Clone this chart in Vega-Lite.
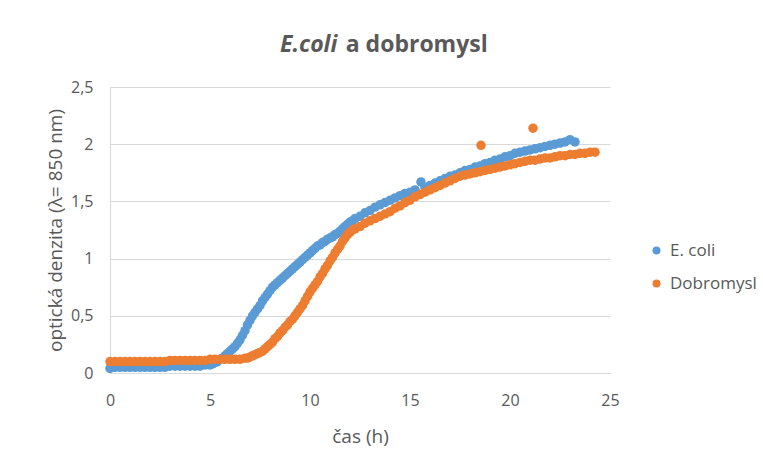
{
  "$schema": "https://vega.github.io/schema/vega-lite/v6.json",
  "width": 500,
  "height": 286,
  "autosize": "none",
  "padding": {"left": 110, "top": 87, "right": 153, "bottom": 92},
  "background": "white",
  "title": {
    "text": "E.coli",
    "subtitle": "\u200b\u00a0\u00a0\u00a0\u00a0\u00a0\u00a0\u00a0\u00a0\u00a0\u00a0\u00a0a dobromysl",
    "anchor": "start",
    "frame": "group",
    "dx": 170,
    "offset": 22,
    "font": "Open Sans",
    "fontSize": 23,
    "fontWeight": "bold",
    "fontStyle": "italic",
    "color": "#595959",
    "subtitleFont": "Open Sans",
    "subtitleFontSize": 23,
    "subtitleFontWeight": "bold",
    "subtitleFontStyle": "normal",
    "subtitleColor": "#595959",
    "subtitlePadding": -23
  },
  "config": {
    "font": "Open Sans",
    "view": {"stroke": null},
    "axis": {
      "labelFont": "Open Sans",
      "labelFontSize": 16,
      "labelColor": "#595959",
      "labelFlush": false,
      "titleFont": "Open Sans",
      "titleFontSize": 19,
      "titleFontWeight": "normal",
      "titleColor": "#595959",
      "domainColor": "#d9d9d9",
      "gridColor": "#d9d9d9",
      "ticks": false
    }
  },
  "data": {
    "values": [
      {"t":0,"v":0.04,"s":"E. coli"},{"t":0.25,"v":0.05,"s":"E. coli"},{"t":0.5,"v":0.05,"s":"E. coli"},{"t":0.75,"v":0.05,"s":"E. coli"},{"t":1,"v":0.05,"s":"E. coli"},{"t":1.25,"v":0.05,"s":"E. coli"},{"t":1.5,"v":0.05,"s":"E. coli"},{"t":1.75,"v":0.05,"s":"E. coli"},{"t":2,"v":0.05,"s":"E. coli"},{"t":2.25,"v":0.05,"s":"E. coli"},{"t":2.5,"v":0.05,"s":"E. coli"},{"t":2.75,"v":0.05,"s":"E. coli"},{"t":3,"v":0.06,"s":"E. coli"},{"t":3.25,"v":0.06,"s":"E. coli"},{"t":3.5,"v":0.06,"s":"E. coli"},{"t":3.75,"v":0.06,"s":"E. coli"},{"t":4,"v":0.06,"s":"E. coli"},{"t":4.25,"v":0.06,"s":"E. coli"},{"t":4.5,"v":0.06,"s":"E. coli"},{"t":4.75,"v":0.07,"s":"E. coli"},{"t":5,"v":0.07,"s":"E. coli"},
      {"t":5.125,"v":0.08,"s":"E. coli"},{"t":5.25,"v":0.09,"s":"E. coli"},{"t":5.375,"v":0.1,"s":"E. coli"},{"t":5.5,"v":0.12,"s":"E. coli"},{"t":5.625,"v":0.13,"s":"E. coli"},{"t":5.75,"v":0.15,"s":"E. coli"},{"t":5.875,"v":0.17,"s":"E. coli"},{"t":6,"v":0.19,"s":"E. coli"},{"t":6.125,"v":0.21,"s":"E. coli"},{"t":6.25,"v":0.23,"s":"E. coli"},{"t":6.375,"v":0.26,"s":"E. coli"},{"t":6.5,"v":0.29,"s":"E. coli"},{"t":6.625,"v":0.33,"s":"E. coli"},{"t":6.75,"v":0.37,"s":"E. coli"},{"t":6.875,"v":0.42,"s":"E. coli"},{"t":7,"v":0.46,"s":"E. coli"},{"t":7.125,"v":0.5,"s":"E. coli"},{"t":7.25,"v":0.53,"s":"E. coli"},{"t":7.375,"v":0.56,"s":"E. coli"},{"t":7.5,"v":0.59,"s":"E. coli"},{"t":7.625,"v":0.63,"s":"E. coli"},{"t":7.75,"v":0.66,"s":"E. coli"},{"t":7.875,"v":0.69,"s":"E. coli"},{"t":8,"v":0.72,"s":"E. coli"},{"t":8.125,"v":0.75,"s":"E. coli"},{"t":8.25,"v":0.77,"s":"E. coli"},{"t":8.375,"v":0.79,"s":"E. coli"},{"t":8.5,"v":0.81,"s":"E. coli"},{"t":8.625,"v":0.83,"s":"E. coli"},{"t":8.75,"v":0.85,"s":"E. coli"},{"t":8.875,"v":0.87,"s":"E. coli"},{"t":9,"v":0.89,"s":"E. coli"},{"t":9.125,"v":0.91,"s":"E. coli"},{"t":9.25,"v":0.93,"s":"E. coli"},{"t":9.375,"v":0.95,"s":"E. coli"},{"t":9.5,"v":0.97,"s":"E. coli"},{"t":9.625,"v":0.99,"s":"E. coli"},{"t":9.75,"v":1.01,"s":"E. coli"},{"t":9.875,"v":1.03,"s":"E. coli"},{"t":10,"v":1.05,"s":"E. coli"},{"t":10.125,"v":1.07,"s":"E. coli"},{"t":10.25,"v":1.09,"s":"E. coli"},{"t":10.375,"v":1.11,"s":"E. coli"},{"t":10.5,"v":1.12,"s":"E. coli"},{"t":10.625,"v":1.14,"s":"E. coli"},{"t":10.75,"v":1.15,"s":"E. coli"},{"t":10.875,"v":1.17,"s":"E. coli"},{"t":11,"v":1.18,"s":"E. coli"},{"t":11.125,"v":1.19,"s":"E. coli"},{"t":11.25,"v":1.21,"s":"E. coli"},{"t":11.375,"v":1.22,"s":"E. coli"},{"t":11.5,"v":1.24,"s":"E. coli"},{"t":11.625,"v":1.26,"s":"E. coli"},{"t":11.75,"v":1.28,"s":"E. coli"},{"t":11.875,"v":1.3,"s":"E. coli"},{"t":12,"v":1.32,"s":"E. coli"},{"t":12.125,"v":1.33,"s":"E. coli"},{"t":12.25,"v":1.35,"s":"E. coli"},
      {"t":12.5,"v":1.37,"s":"E. coli"},{"t":12.75,"v":1.4,"s":"E. coli"},{"t":13,"v":1.42,"s":"E. coli"},{"t":13.25,"v":1.45,"s":"E. coli"},{"t":13.5,"v":1.47,"s":"E. coli"},{"t":13.75,"v":1.49,"s":"E. coli"},{"t":14,"v":1.51,"s":"E. coli"},{"t":14.25,"v":1.53,"s":"E. coli"},{"t":14.5,"v":1.55,"s":"E. coli"},{"t":14.75,"v":1.57,"s":"E. coli"},{"t":15,"v":1.58,"s":"E. coli"},{"t":15.25,"v":1.6,"s":"E. coli"},{"t":15.55,"v":1.67,"s":"E. coli"},{"t":15.75,"v":1.62,"s":"E. coli"},{"t":16,"v":1.64,"s":"E. coli"},{"t":16.25,"v":1.66,"s":"E. coli"},{"t":16.5,"v":1.68,"s":"E. coli"},{"t":16.75,"v":1.7,"s":"E. coli"},{"t":17,"v":1.72,"s":"E. coli"},{"t":17.25,"v":1.73,"s":"E. coli"},{"t":17.5,"v":1.75,"s":"E. coli"},{"t":17.75,"v":1.77,"s":"E. coli"},{"t":18,"v":1.78,"s":"E. coli"},{"t":18.25,"v":1.8,"s":"E. coli"},{"t":18.5,"v":1.81,"s":"E. coli"},{"t":18.75,"v":1.83,"s":"E. coli"},{"t":19,"v":1.84,"s":"E. coli"},{"t":19.25,"v":1.86,"s":"E. coli"},{"t":19.5,"v":1.87,"s":"E. coli"},{"t":19.75,"v":1.89,"s":"E. coli"},{"t":20,"v":1.9,"s":"E. coli"},{"t":20.25,"v":1.92,"s":"E. coli"},{"t":20.5,"v":1.93,"s":"E. coli"},{"t":20.75,"v":1.94,"s":"E. coli"},{"t":21,"v":1.95,"s":"E. coli"},{"t":21.25,"v":1.96,"s":"E. coli"},{"t":21.5,"v":1.97,"s":"E. coli"},{"t":21.75,"v":1.98,"s":"E. coli"},{"t":22,"v":1.99,"s":"E. coli"},{"t":22.25,"v":2.0,"s":"E. coli"},{"t":22.5,"v":2.01,"s":"E. coli"},{"t":22.75,"v":2.02,"s":"E. coli"},{"t":23,"v":2.04,"s":"E. coli"},{"t":23.25,"v":2.02,"s":"E. coli"},
      {"t":0,"v":0.1,"s":"Dobromysl"},{"t":0.25,"v":0.1,"s":"Dobromysl"},{"t":0.5,"v":0.1,"s":"Dobromysl"},{"t":0.75,"v":0.1,"s":"Dobromysl"},{"t":1,"v":0.1,"s":"Dobromysl"},{"t":1.25,"v":0.1,"s":"Dobromysl"},{"t":1.5,"v":0.1,"s":"Dobromysl"},{"t":1.75,"v":0.1,"s":"Dobromysl"},{"t":2,"v":0.1,"s":"Dobromysl"},{"t":2.25,"v":0.1,"s":"Dobromysl"},{"t":2.5,"v":0.1,"s":"Dobromysl"},{"t":2.75,"v":0.1,"s":"Dobromysl"},{"t":3,"v":0.11,"s":"Dobromysl"},{"t":3.25,"v":0.11,"s":"Dobromysl"},{"t":3.5,"v":0.11,"s":"Dobromysl"},{"t":3.75,"v":0.11,"s":"Dobromysl"},{"t":4,"v":0.11,"s":"Dobromysl"},{"t":4.25,"v":0.11,"s":"Dobromysl"},{"t":4.5,"v":0.11,"s":"Dobromysl"},{"t":4.75,"v":0.11,"s":"Dobromysl"},{"t":5,"v":0.12,"s":"Dobromysl"},{"t":5.25,"v":0.12,"s":"Dobromysl"},{"t":5.5,"v":0.12,"s":"Dobromysl"},{"t":5.75,"v":0.12,"s":"Dobromysl"},{"t":6,"v":0.12,"s":"Dobromysl"},{"t":6.25,"v":0.12,"s":"Dobromysl"},{"t":6.5,"v":0.12,"s":"Dobromysl"},{"t":6.75,"v":0.13,"s":"Dobromysl"},
      {"t":6.875,"v":0.13,"s":"Dobromysl"},{"t":7,"v":0.14,"s":"Dobromysl"},{"t":7.125,"v":0.15,"s":"Dobromysl"},{"t":7.25,"v":0.16,"s":"Dobromysl"},{"t":7.375,"v":0.17,"s":"Dobromysl"},{"t":7.5,"v":0.18,"s":"Dobromysl"},{"t":7.625,"v":0.19,"s":"Dobromysl"},{"t":7.75,"v":0.21,"s":"Dobromysl"},{"t":7.875,"v":0.23,"s":"Dobromysl"},{"t":8,"v":0.25,"s":"Dobromysl"},{"t":8.125,"v":0.27,"s":"Dobromysl"},{"t":8.25,"v":0.3,"s":"Dobromysl"},{"t":8.375,"v":0.32,"s":"Dobromysl"},{"t":8.5,"v":0.35,"s":"Dobromysl"},{"t":8.625,"v":0.37,"s":"Dobromysl"},{"t":8.75,"v":0.4,"s":"Dobromysl"},{"t":8.875,"v":0.42,"s":"Dobromysl"},{"t":9,"v":0.45,"s":"Dobromysl"},{"t":9.125,"v":0.47,"s":"Dobromysl"},{"t":9.25,"v":0.5,"s":"Dobromysl"},{"t":9.375,"v":0.53,"s":"Dobromysl"},{"t":9.5,"v":0.56,"s":"Dobromysl"},{"t":9.625,"v":0.59,"s":"Dobromysl"},{"t":9.75,"v":0.63,"s":"Dobromysl"},{"t":9.875,"v":0.67,"s":"Dobromysl"},{"t":10,"v":0.71,"s":"Dobromysl"},{"t":10.125,"v":0.74,"s":"Dobromysl"},{"t":10.25,"v":0.77,"s":"Dobromysl"},{"t":10.375,"v":0.8,"s":"Dobromysl"},{"t":10.5,"v":0.84,"s":"Dobromysl"},{"t":10.625,"v":0.87,"s":"Dobromysl"},{"t":10.75,"v":0.91,"s":"Dobromysl"},{"t":10.875,"v":0.94,"s":"Dobromysl"},{"t":11,"v":0.98,"s":"Dobromysl"},{"t":11.125,"v":1.01,"s":"Dobromysl"},{"t":11.25,"v":1.05,"s":"Dobromysl"},{"t":11.375,"v":1.08,"s":"Dobromysl"},{"t":11.5,"v":1.11,"s":"Dobromysl"},{"t":11.625,"v":1.15,"s":"Dobromysl"},{"t":11.75,"v":1.18,"s":"Dobromysl"},{"t":11.875,"v":1.21,"s":"Dobromysl"},{"t":12,"v":1.23,"s":"Dobromysl"},{"t":12.125,"v":1.25,"s":"Dobromysl"},{"t":12.25,"v":1.26,"s":"Dobromysl"},
      {"t":12.5,"v":1.28,"s":"Dobromysl"},{"t":12.75,"v":1.31,"s":"Dobromysl"},{"t":13,"v":1.33,"s":"Dobromysl"},{"t":13.25,"v":1.35,"s":"Dobromysl"},{"t":13.5,"v":1.37,"s":"Dobromysl"},{"t":13.75,"v":1.39,"s":"Dobromysl"},{"t":14,"v":1.41,"s":"Dobromysl"},{"t":14.25,"v":1.44,"s":"Dobromysl"},{"t":14.5,"v":1.46,"s":"Dobromysl"},{"t":14.75,"v":1.49,"s":"Dobromysl"},{"t":15,"v":1.51,"s":"Dobromysl"},{"t":15.25,"v":1.54,"s":"Dobromysl"},{"t":15.5,"v":1.56,"s":"Dobromysl"},{"t":15.75,"v":1.58,"s":"Dobromysl"},{"t":16,"v":1.6,"s":"Dobromysl"},{"t":16.25,"v":1.62,"s":"Dobromysl"},{"t":16.5,"v":1.64,"s":"Dobromysl"},{"t":16.75,"v":1.66,"s":"Dobromysl"},{"t":17,"v":1.68,"s":"Dobromysl"},{"t":17.25,"v":1.7,"s":"Dobromysl"},{"t":17.5,"v":1.72,"s":"Dobromysl"},{"t":17.75,"v":1.73,"s":"Dobromysl"},{"t":18,"v":1.74,"s":"Dobromysl"},{"t":18.25,"v":1.75,"s":"Dobromysl"},{"t":18.5,"v":1.76,"s":"Dobromysl"},{"t":18.55,"v":1.99,"s":"Dobromysl"},{"t":18.75,"v":1.77,"s":"Dobromysl"},{"t":19,"v":1.78,"s":"Dobromysl"},{"t":19.25,"v":1.79,"s":"Dobromysl"},{"t":19.5,"v":1.8,"s":"Dobromysl"},{"t":19.75,"v":1.81,"s":"Dobromysl"},{"t":20,"v":1.82,"s":"Dobromysl"},{"t":20.25,"v":1.83,"s":"Dobromysl"},{"t":20.5,"v":1.84,"s":"Dobromysl"},{"t":20.75,"v":1.85,"s":"Dobromysl"},{"t":21,"v":1.86,"s":"Dobromysl"},{"t":21.15,"v":2.14,"s":"Dobromysl"},{"t":21.25,"v":1.86,"s":"Dobromysl"},{"t":21.5,"v":1.87,"s":"Dobromysl"},{"t":21.75,"v":1.88,"s":"Dobromysl"},{"t":22,"v":1.88,"s":"Dobromysl"},{"t":22.25,"v":1.89,"s":"Dobromysl"},{"t":22.5,"v":1.9,"s":"Dobromysl"},{"t":22.75,"v":1.9,"s":"Dobromysl"},{"t":23,"v":1.91,"s":"Dobromysl"},{"t":23.25,"v":1.91,"s":"Dobromysl"},{"t":23.5,"v":1.92,"s":"Dobromysl"},{"t":23.75,"v":1.92,"s":"Dobromysl"},{"t":24,"v":1.93,"s":"Dobromysl"},{"t":24.25,"v":1.93,"s":"Dobromysl"}
    ]
  },
  "mark": {"type": "circle", "size": 90, "opacity": 1},
  "encoding": {
    "x": {
      "field": "t",
      "type": "quantitative",
      "scale": {"domain": [0, 25], "nice": false, "zero": false},
      "axis": {"values": [0, 5, 10, 15, 20, 25], "title": "čas (h)", "grid": false, "labelPadding": 19, "titlePadding": 19}
    },
    "y": {
      "field": "v",
      "type": "quantitative",
      "scale": {"domain": [0, 2.5], "nice": false},
      "axis": {"values": [0, 0.5, 1, 1.5, 2, 2.5], "format": "~g", "labelExpr": "replace(datum.label, '.', ',')", "title": "optická denzita (λ= 850 nm)", "grid": true, "labelPadding": 17, "titlePadding": 5}
    },
    "color": {
      "field": "s",
      "type": "nominal",
      "scale": {"domain": ["E. coli", "Dobromysl"], "range": ["#5B9BD5", "#ED7D31"]},
      "legend": {"title": null, "orient": "none", "legendX": 538, "legendY": 155, "symbolType": "circle", "symbolSize": 64, "labelFont": "Open Sans", "labelFontSize": 17, "labelColor": "#595959", "rowPadding": 15, "labelOffset": 5}
    }
  }
}
